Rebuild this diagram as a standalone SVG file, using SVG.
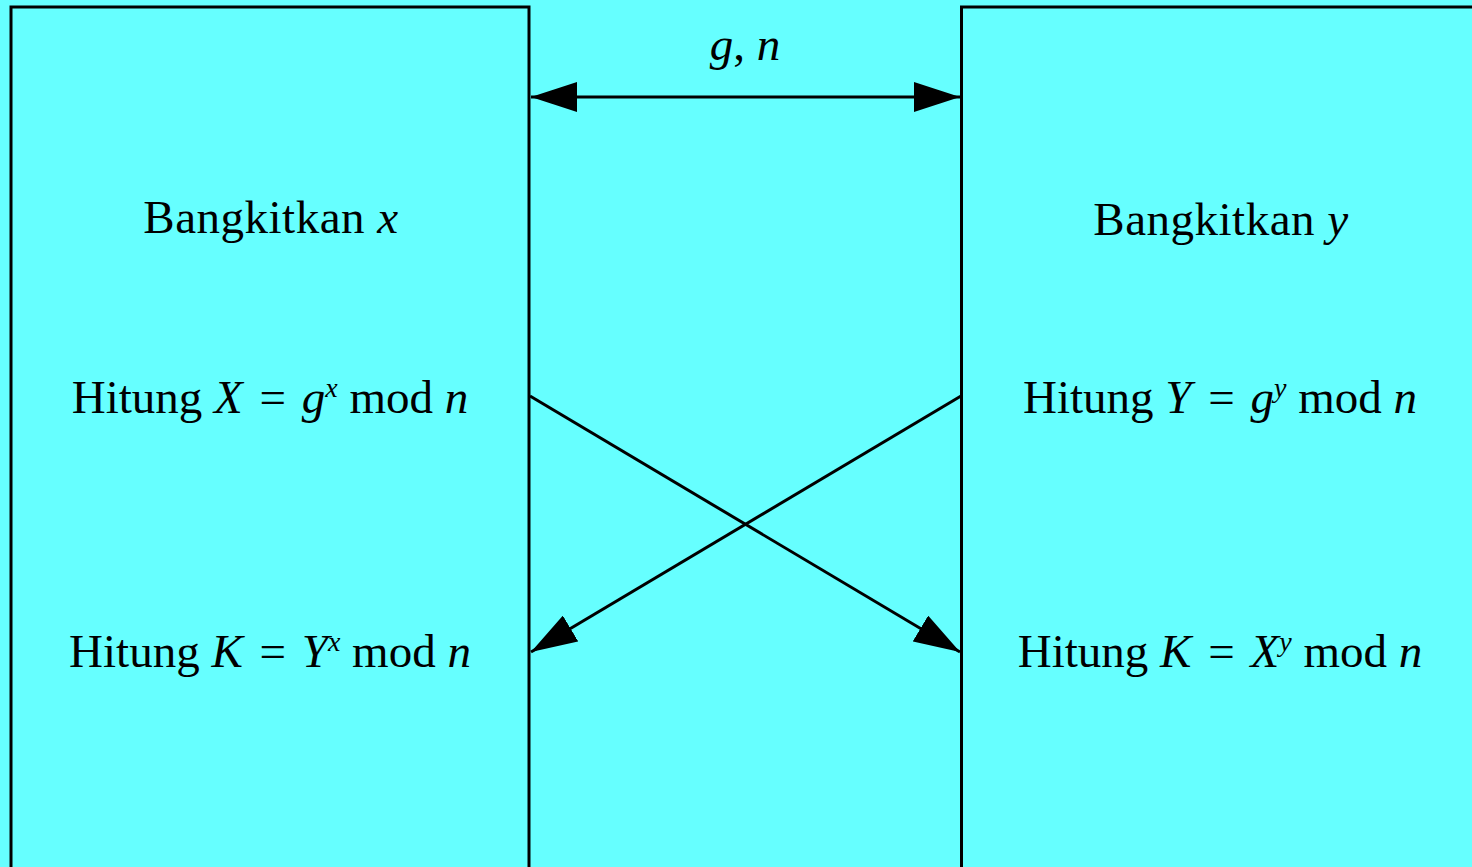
<svg xmlns="http://www.w3.org/2000/svg" width="1472" height="867" viewBox="0 0 1472 867">
<defs>
<style>
.box{fill:#66FFFF;stroke:#000;stroke-width:3}
.t{font-family:"Liberation Serif","Times New Roman",serif;font-size:47px;fill:#000;text-anchor:middle}
.i{font-style:italic}
.sup{font-style:italic;font-size:28px}
.ln{stroke:#000;stroke-width:3;fill:none}
</style>
<marker id="ah" viewBox="0 0 46 30" refX="46" refY="15" markerUnits="userSpaceOnUse" markerWidth="46" markerHeight="30" orient="auto-start-reverse">
<path d="M0,0 L46,15 L0,30 Z" fill="#000"/>
</marker>
</defs>
<rect x="0" y="0" width="1472" height="867" fill="#66FFFF"/>
<g id="left">
<rect class="box" x="11" y="7" width="518" height="880"/>
<text class="t" x="271" y="233" letter-spacing="0.5">Bangkitkan <tspan class="i">x</tspan></text>
<text class="t" x="270" y="413">Hitung <tspan class="i">X</tspan><tspan dx="5"> = </tspan><tspan class="i" dx="4">g</tspan><tspan class="sup" dy="-16">x</tspan><tspan dy="16"> mod </tspan><tspan class="i">n</tspan></text>
<text class="t" x="270" y="667">Hitung <tspan class="i">K</tspan><tspan dx="5"> = </tspan><tspan class="i" dx="4">Y</tspan><tspan class="sup" dy="-16">x</tspan><tspan dy="16"> mod </tspan><tspan class="i">n</tspan></text>
</g>
<g id="right">
<rect class="box" x="961.5" y="7" width="540" height="880"/>
<text class="t" x="1221" y="235" letter-spacing="0.5">Bangkitkan <tspan class="i">y</tspan></text>
<text class="t" x="1220" y="413">Hitung <tspan class="i">Y</tspan><tspan dx="5"> = </tspan><tspan class="i" dx="4">g</tspan><tspan class="sup" dy="-16">y</tspan><tspan dy="16"> mod </tspan><tspan class="i">n</tspan></text>
<text class="t" x="1220" y="667">Hitung <tspan class="i">K</tspan><tspan dx="5"> = </tspan><tspan class="i" dx="4">X</tspan><tspan class="sup" dy="-16">y</tspan><tspan dy="16"> mod </tspan><tspan class="i">n</tspan></text>
</g>
<g id="connectors">
<line class="ln" x1="531" y1="97" x2="960" y2="97" marker-start="url(#ah)" marker-end="url(#ah)"/>
<text class="t" x="745" y="60"><tspan class="i">g</tspan>, <tspan class="i">n</tspan></text>
<line class="ln" x1="530" y1="396" x2="960" y2="652" marker-end="url(#ah)"/>
<line class="ln" x1="961" y1="396" x2="531" y2="652" marker-end="url(#ah)"/>
</g>
</svg>
